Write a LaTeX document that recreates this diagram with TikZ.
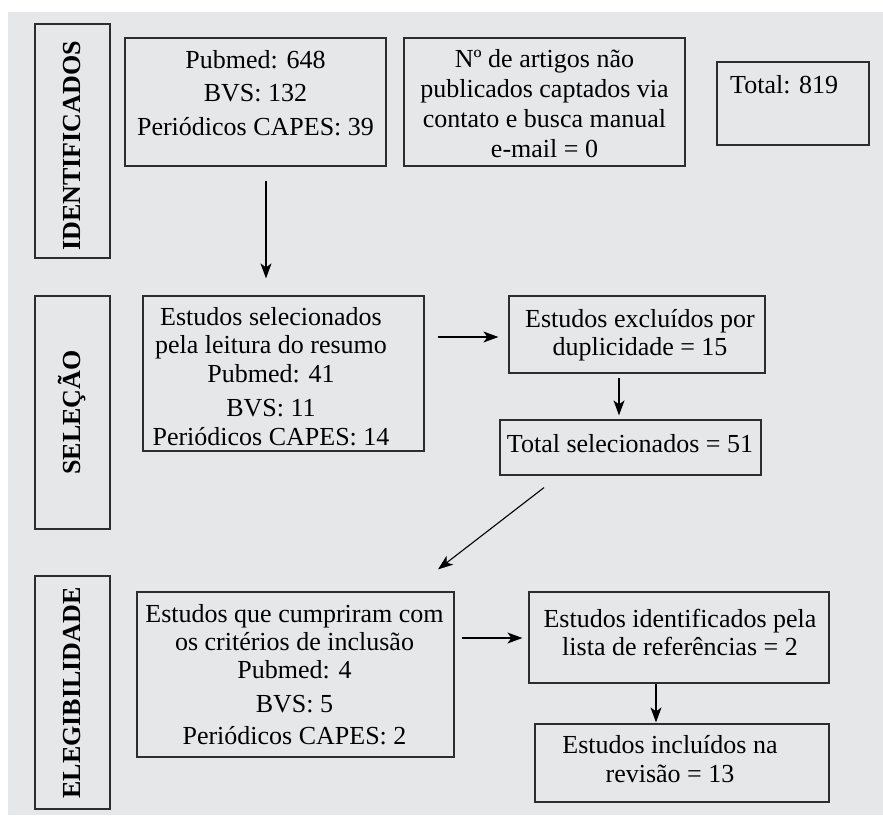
\documentclass[tikz,border=0pt]{standalone}
\usepackage{fontspec}
\setmainfont{Liberation Serif}
\usetikzlibrary{arrows.meta,calc}
\definecolor{bggray}{RGB}{230,231,233}
\definecolor{boxline}{RGB}{45,45,45}
\tikzset{
  boxnode/.style={draw=boxline,line width=1.2pt,fill=none,inner sep=0pt},
  labelbox/.style={boxnode,minimum width=75pt,minimum height=233pt},
  vlabel/.style={rotate=90,font=\fontsize{26}{30}\selectfont\bfseries,inner sep=0pt},
  txt/.style={anchor=base,align=center,inner sep=0pt},
  arr/.style={-{Stealth[length=15pt,width=11pt,inset=4pt]},line width=1.1pt,black}
}
\newcommand{\fs}[1]{\fontsize{26}{#1}\selectfont}
\begin{document}
\begin{tikzpicture}[x=1pt,y=-1pt]
\useasboundingbox (0,0) rectangle (883,816);
\fill[bggray] (8,12) rectangle (883,815);

% stage labels
\node[labelbox,minimum height=234pt] (lid) at (72.5,141) {};
\node[vlabel] (tid) at (72.5,146) {IDENTIFICADOS};
\node[labelbox] (lsel) at (72.5,412.5) {};
\node[vlabel] (tsel) at (72.5,412.5) {SELEÇÃO};
\node[labelbox] (leg) at (72.5,692.5) {};
\node[vlabel] (teg) at (72.5,693) {ELEGIBILIDADE};

% row 1
\node[boxnode,minimum width=261pt,minimum height=128pt] (b1) at (255.5,102) {};
\node[txt,font=\fs{33.5}] (t1) at (255.5,135) {Pubmed: 648\\BVS: 132\\Periódicos CAPES: 39};
\node[boxnode,minimum width=281pt,minimum height=128pt] (b2) at (544.5,102) {};
\node[txt,font=\fs{29.7}] (t2) at (544.5,157) {Nº de artigos não\\publicados captados via\\contato e busca manual\\e-mail = 0};
\node[boxnode,minimum width=152pt,minimum height=83pt] (b3) at (793,103.5) {};
\node[txt,anchor=base west,font=\fs{30}] (t3) at (730,93) {Total: 819};

% row 2
\node[boxnode,minimum width=281pt,minimum height=155pt] (b4) at (283.5,373.5) {};
\node[txt,font=\fs{28.5}] (t4) at (271,445) {Estudos selecionados\\pela leitura do resumo\\Pubmed: 41\\[6pt]BVS: 11\\Periódicos CAPES: 14};
\node[boxnode,minimum width=256pt,minimum height=77pt] (b5) at (637,334.5) {};
\node[txt,font=\fs{28}] (t5) at (640,355) {Estudos excluídos por\\duplicidade = 15};
\node[boxnode,minimum width=261pt,minimum height=55pt] (b6) at (630.5,447.5) {};
\node[txt,font=\fs{28}] (t6) at (630,452) {Total selecionados = 51};

% row 3
\node[boxnode,minimum width=317pt,minimum height=165pt] (b7) at (295.5,674.5) {};
\node[txt,font=\fs{28}] (t7) at (294.5,744) {Estudos que cumpriram com\\os critérios de inclusão\\Pubmed: 4\\[6pt]BVS: 5\\[4pt]Periódicos CAPES: 2};
\node[boxnode,minimum width=300pt,minimum height=91pt] (b8) at (679,637.5) {};
\node[txt,font=\fs{28}] (t8) at (680,655) {Estudos identificados pela\\lista de referências = 2};
\node[boxnode,minimum width=294pt,minimum height=78pt] (b9) at (682,763) {};
\node[txt,font=\fs{29}] (t9) at (670,782) {Estudos incluídos na\\revisão = 13};

% connectors
\draw[arr] ($(b1.south)+(10.5,14)$) -- ($(b4.north)+(-17.5,-17)$);
\draw[arr] ($(b4.east)+(13,-36.5)$) -- ($(b5.west)+(-10,2.5)$);
\draw[arr] ($(b5.south)+(-18,4)$) -- ($(b6.north)+(-11.5,-4)$);
\draw[arr] ($(b6.south)+(-86.5,12)$) -- ($(b7.north)+(142.5,-22)$);
\draw[arr] ($(b7.east)+(7,-36.5)$) -- ($(b8.west)+(-6,0.5)$);
\draw[arr] ($(b8.south)+(-23,0)$) -- ($(b9.north)+(-26,-1)$);
\end{tikzpicture}
\end{document}
